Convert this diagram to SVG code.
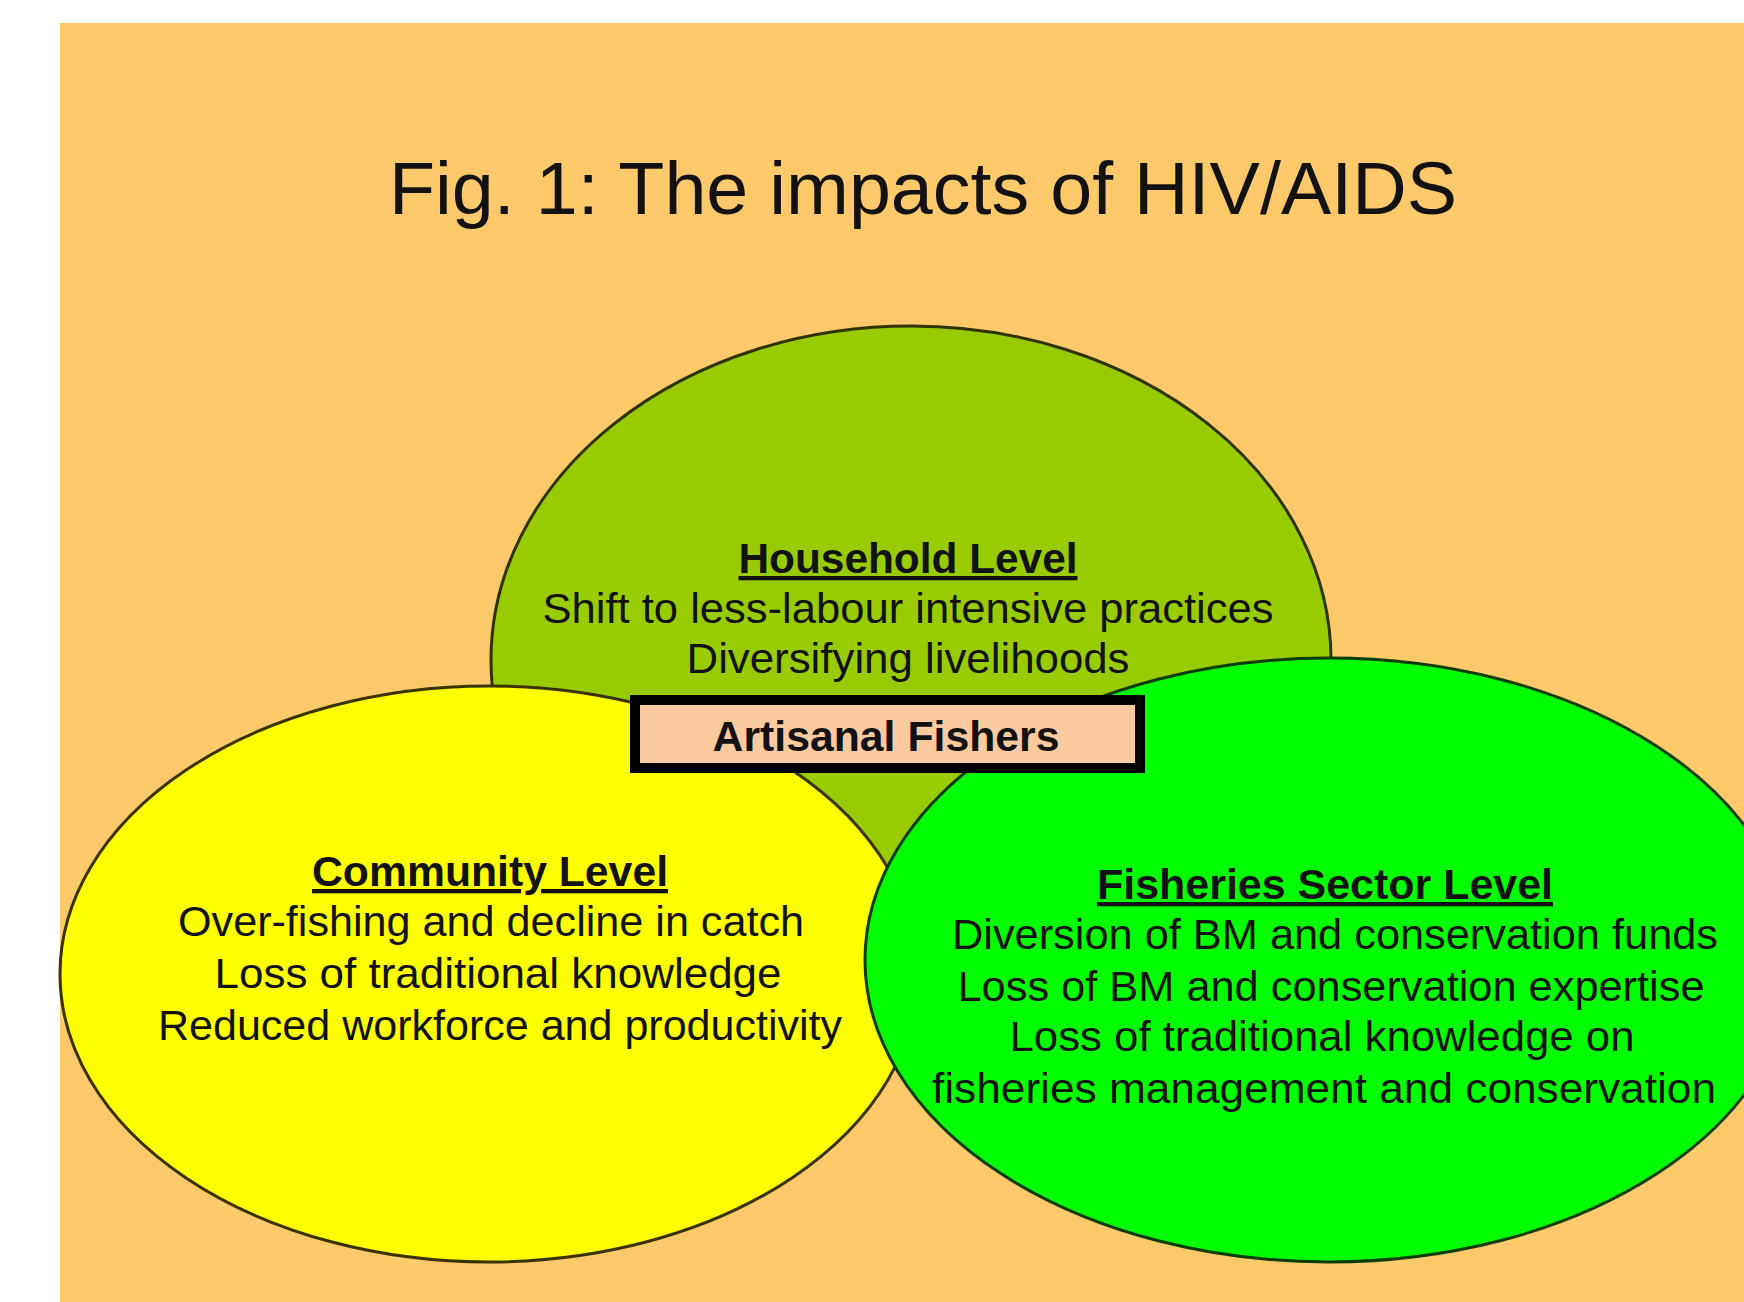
<svg xmlns="http://www.w3.org/2000/svg" width="1744" height="1302" viewBox="0 0 1744 1302">
  <style>
    text { font-family: "Liberation Sans", Arial, sans-serif; fill: #121212; text-anchor: middle; }
    .title { font-size: 75px; }
    .head { font-size: 43px; font-weight: bold; text-decoration: underline; }
    .line { font-size: 43px; }
    .label { font-size: 43px; font-weight: bold; }
    .venn { stroke-width: 3; }
  </style>

  <!-- page and panel background -->
  <rect x="0" y="0" width="1744" height="1302" fill="#ffffff"/>
  <rect x="60" y="23" width="1684" height="1279" fill="#fdc96b"/>

  <text class="title" x="923" y="214" textLength="1068" lengthAdjust="spacingAndGlyphs">Fig. 1: The impacts of HIV/AIDS</text>

  <!-- Household level (top circle) -->
  <g id="household">
    <ellipse class="venn" cx="911" cy="660" rx="420" ry="334" fill="#99cc00" stroke="#2e3300"/>
  </g>

  <!-- Community level (lower left circle) -->
  <g id="community">
    <ellipse class="venn" cx="489" cy="974" rx="429" ry="288" fill="#ffff00" stroke="#3a3300"/>
  </g>

  <!-- Fisheries sector level (lower right circle) -->
  <g id="fisheries">
    <ellipse class="venn" cx="1329" cy="960" rx="464" ry="302" fill="#00ff00" stroke="#0b3d0b"/>
  </g>

  <!-- circle captions -->
  <g id="household-text">
    <text class="head" x="908" y="573" textLength="339" lengthAdjust="spacingAndGlyphs">Household Level</text>
    <text class="line" x="908" y="623" textLength="731" lengthAdjust="spacingAndGlyphs">Shift to less-labour intensive practices</text>
    <text class="line" x="908" y="673" textLength="443" lengthAdjust="spacingAndGlyphs">Diversifying livelihoods</text>
  </g>

  <g id="community-text">
    <text class="head" x="490" y="886" textLength="356" lengthAdjust="spacingAndGlyphs">Community Level</text>
    <text class="line" x="491" y="936" textLength="626" lengthAdjust="spacingAndGlyphs">Over-fishing and decline in catch</text>
    <text class="line" x="498" y="988" textLength="567" lengthAdjust="spacingAndGlyphs">Loss of traditional knowledge</text>
    <text class="line" x="500" y="1040" textLength="684" lengthAdjust="spacingAndGlyphs">Reduced workforce and productivity</text>
  </g>

  <g id="fisheries-text">
    <text class="head" x="1325" y="899" textLength="456" lengthAdjust="spacingAndGlyphs">Fisheries Sector Level</text>
    <text class="line" x="1335" y="949" textLength="766" lengthAdjust="spacingAndGlyphs">Diversion of BM and conservation funds</text>
    <text class="line" x="1331" y="1001" textLength="747" lengthAdjust="spacingAndGlyphs">Loss of BM and conservation expertise</text>
    <text class="line" x="1322" y="1051" textLength="625" lengthAdjust="spacingAndGlyphs">Loss of traditional knowledge on</text>
    <text class="line" x="1324" y="1103" textLength="784" lengthAdjust="spacingAndGlyphs">fisheries management and conservation</text>
  </g>

  <!-- central label -->
  <g id="artisanal-fishers">
    <rect x="635" y="700" width="505" height="68" fill="#fbcb9f" stroke="#000000" stroke-width="10"/>
    <text class="label" x="886" y="751" textLength="347" lengthAdjust="spacingAndGlyphs">Artisanal Fishers</text>
  </g>

  <g id="connectors"></g>
</svg>
